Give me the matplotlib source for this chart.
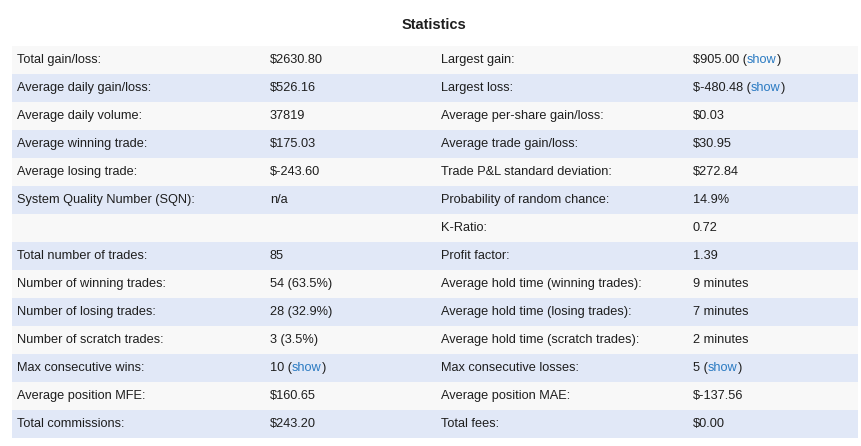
"""Statistics table recreated with matplotlib
"""

from matplotlib import pyplot as plt

left_labels = [
    "Total gain/loss:", "Average daily gain/loss:", "Average daily volume:",
    "Average winning trade:", "Average losing trade:", "System Quality Number (SQN):",
    "", "Total number of trades:", "Number of winning trades:",
    "Number of losing trades:", "Number of scratch trades:", "Max consecutive wins:",
    "Average position MFE:", "Total commissions:",
]
left_values = [
    "$2630.80", "$526.16", "37819", "$175.03", "$-243.60", "n/a", "",
    "85", "54 (63.5%)", "28 (32.9%)", "3 (3.5%)", "10", "$160.65", "$243.20",
]
right_labels = [
    "Largest gain:", "Largest loss:", "Average per-share gain/loss:",
    "Average trade gain/loss:", "Trade P&L standard deviation:",
    "Probability of random chance:", "K-Ratio:", "Profit factor:",
    "Average hold time (winning trades):", "Average hold time (losing trades):",
    "Average hold time (scratch trades):", "Max consecutive losses:",
    "Average position MAE:", "Total fees:",
]
right_values = [
    "$905.00", "$-480.48", "$0.03", "$30.95", "$272.84", "14.9%", "0.72",
    "1.39", "9 minutes", "7 minutes", "2 minutes", "5", "$-137.56", "$0.00",
]
# rows whose value carries a "(show)" link
left_links = [11]
right_links = [0, 1, 11]

plt.rcParams['font.family'] = ['Liberation Sans', 'DejaVu Sans']
text_color = '#1e1e1e'
link_color = '#2a7ac2'
row_colors = ['#f8f8f8', '#e1e8f7']
fs = 9.2

fig = plt.figure(figsize=(8.62, 4.46), dpi=100)
ax = fig.add_axes([0, 0, 1, 1])
ax.set_xlim(0, 862)
ax.set_ylim(446, 0)
ax.axis('off')

top, row_h = 46, 28
x0, x1 = 12, 858
cols = [17, 270, 441, 693]

ax.text(434, 25, "Statistics", ha='center', va='center', fontsize=10.5,
        fontweight='bold', color=text_color)

renderer = fig.canvas.get_renderer()


def put_value(x, y, value, link):
    if not link:
        ax.text(x, y, value, ha='left', va='center', fontsize=fs, color=text_color)
        return
    t = ax.text(x, y, value + " (", ha='left', va='center', fontsize=fs, color=text_color)
    bb = t.get_window_extent(renderer).transformed(ax.transData.inverted())
    t2 = ax.text(bb.x1, y, "show", ha='left', va='center', fontsize=fs, color=link_color)
    bb2 = t2.get_window_extent(renderer).transformed(ax.transData.inverted())
    ax.text(bb2.x1, y, ")", ha='left', va='center', fontsize=fs, color=text_color)


for i in range(len(left_labels)):
    y_top = top + i * row_h
    ax.add_patch(plt.Rectangle((x0, y_top), x1 - x0, row_h,
                               facecolor=row_colors[i % 2], edgecolor='none'))
    yc = y_top + row_h / 2
    ax.text(cols[0], yc, left_labels[i], ha='left', va='center', fontsize=fs, color=text_color)
    put_value(cols[1], yc, left_values[i], i in left_links)
    ax.text(cols[2], yc, right_labels[i], ha='left', va='center', fontsize=fs, color=text_color)
    put_value(cols[3], yc, right_values[i], i in right_links)

fig.savefig('out.png', dpi=100)
